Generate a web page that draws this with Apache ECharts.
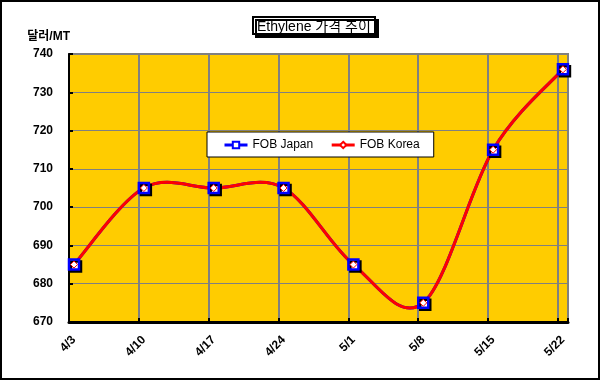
<!DOCTYPE html>
<html><head><meta charset="utf-8">
<script src="https://cdn.jsdelivr.net/npm/echarts@6/dist/echarts.min.js"></script>
<style>html,body{margin:0;padding:0;background:#fff}#c{width:603px;height:381px}</style>
</head><body><div id="c"></div>
<script>
const categories = ['4/3','4/10','4/17','4/24','5/1','5/8','5/15','5/22'];
const fobJapan = [685, 705, 705, 705, 685, 675, 715, 736];
const fobKorea = [685, 705, 705, 705, 685, 675, 715, 736];
const yTicks = [670, 680, 690, 700, 710, 720, 730, 740];

const chart = echarts.init(document.getElementById('c'), null, {renderer:'canvas'});
const font = 'Arial, "Liberation Sans", "Noto Sans CJK KR", sans-serif';
const toXY = arr => arr.map((v,i)=>[i,v]);
const idx = categories.map((c,i)=>i);

// Excel-like smoothed curve (cubic Bezier, tension 1/6) through the data, in pixel space via the axes
function curveRenderer(values, color, width){
  return function(params, api){
    const p = values.map((v,i)=>api.coord([i, v]));
    let d = 'M' + p[0][0] + ' ' + p[0][1];
    for (let i=0;i<p.length-1;i++){
      const p0 = p[Math.max(i-1,0)], p1 = p[i], p2 = p[i+1], p3 = p[Math.min(i+2,p.length-1)];
      const c1 = [p1[0] + (p2[0]-p0[0])/6, p1[1] + (p2[1]-p0[1])/6];
      const c2 = [p2[0] - (p3[0]-p1[0])/6, p2[1] - (p3[1]-p1[1])/6];
      d += ' C' + c1[0] + ' ' + c1[1] + ' ' + c2[0] + ' ' + c2[1] + ' ' + p2[0] + ' ' + p2[1];
    }
    return {type:'path', shape:{pathData:d}, style:{fill:'none', stroke:color, lineWidth:width, lineJoin:'round', lineCap:'round'}};
  };
}

chart.setOption({
  animation:false,
  backgroundColor:'#fff',
  textStyle:{fontFamily:font},
  grid:{left:69, top:54, right:35, bottom:59, show:true, backgroundColor:'#FFCC00', borderColor:'#808080', borderWidth:2},
  title:{text:'Ethylene 가격 추이', left:253, top:17, padding:[3,4,0,4],
    borderColor:'#000', borderWidth:2, backgroundColor:'#fff',
    shadowColor:'#000', shadowOffsetX:3, shadowOffsetY:3, shadowBlur:0,
    textStyle:{fontSize:14, fontWeight:'normal', color:'#000', fontFamily:font, lineHeight:14}},
  legend:{left:207, top:132, orient:'horizontal', itemGap:17, padding:[7,14,6,16],
    backgroundColor:'#fff', borderColor:'#000', borderWidth:1, itemWidth:23, itemHeight:8,
    textStyle:{fontSize:12, color:'#000', fontFamily:font},
    data:[
      {name:'FOB Japan', lineStyle:{color:'#0000FF', width:3, opacity:1}},
      {name:'FOB Korea', lineStyle:{color:'#FF0000', width:3, opacity:1}}
    ]},
  xAxis:[
    {type:'value', min:0, max:7.144, interval:1, position:'bottom',
      axisLine:{show:true, onZero:false, lineStyle:{color:'#000', width:3}},
      axisTick:{show:true, inside:true, length:4, lineStyle:{color:'#000', width:2}},
      splitLine:{show:true, lineStyle:{color:'#808080', width:2}},
      axisLabel:{show:false}},
    {type:'value', min:-0.0716, max:7.0724, position:'bottom', offset:0,
      axisLine:{show:false}, axisTick:{show:false}, splitLine:{show:false},
      axisLabel:{show:true, customValues:idx, rotate:45, margin:16, fontSize:12, fontWeight:'bold', color:'#000', fontFamily:font,
        formatter:v => categories[Math.round(v)]}}
  ],
  yAxis:{type:'value', min:670, max:740, interval:10, name:'달러/MT',
    nameLocation:'end', nameGap:11, nameTextStyle:{fontSize:12, fontWeight:'bold', color:'#000', align:'right', padding:[0,-1,0,0]},
    axisLine:{show:true, lineStyle:{color:'#000', width:2}},
    axisTick:{show:true, inside:true, length:4, lineStyle:{color:'#000', width:2}},
    splitLine:{show:true, lineStyle:{color:'#808080', width:1}},
    axisLabel:{margin:16, fontSize:12, fontWeight:'bold', color:'#000', fontFamily:font,
      formatter:v => yTicks.includes(v) ? String(v) : ''}},
  graphic:[{type:'rect', shape:{x:1, y:1, width:598, height:378}, style:{fill:'none', stroke:'#000', lineWidth:2}, z:100}],
  series:[
    {name:'FOB Japan curve', type:'custom', xAxisIndex:1, yAxisIndex:0, data:[[0,fobJapan[0]]],
      renderItem:curveRenderer(fobJapan, '#0000FF', 3), z:2, silent:true},
    {name:'FOB Korea curve', type:'custom', xAxisIndex:1, yAxisIndex:0, data:[[0,fobKorea[0]]],
      renderItem:curveRenderer(fobKorea, '#FF0000', 3), z:3, silent:true},
    {name:'FOB Japan', type:'line', xAxisIndex:1, data:toXY(fobJapan), symbol:'rect', symbolSize:10,
      lineStyle:{color:'#0000FF', width:3, opacity:0},
      itemStyle:{color:'#fff', borderColor:'#0000FF', borderWidth:2.5, shadowColor:'#000', shadowOffsetX:2, shadowOffsetY:2, shadowBlur:0},
      z:4},
    {name:'FOB Korea', type:'line', xAxisIndex:1, data:toXY(fobKorea), symbol:'diamond', symbolSize:7,
      lineStyle:{color:'#FF0000', width:3, opacity:0},
      itemStyle:{color:'#fff', borderColor:'#FF0000', borderWidth:1},
      z:5}
  ]
});
</script></body></html>
